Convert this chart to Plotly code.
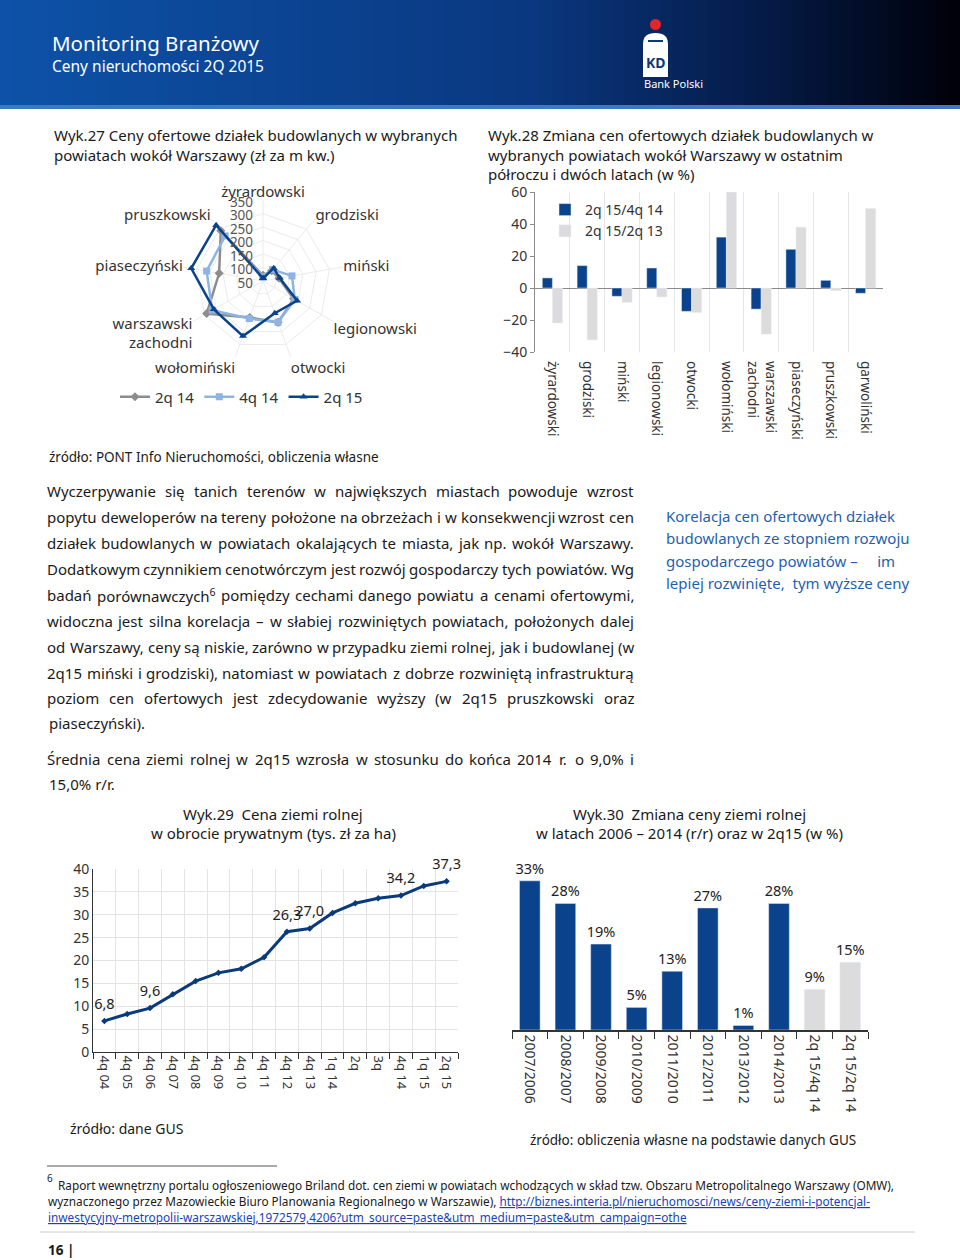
import re
import plotly.graph_objects as go

W, H = 960, 1260


def X(p):
    return p / W


def Y(p):
    return 1 - p / H


# ---------------- DATA ----------------
radar_cats = ["żyrardowski", "grodziski", "miński", "legionowski", "otwocki",
              "wołomiński", "warszawski zachodni", "piaseczyński", "pruszkowski"]
radar_2q14 = [70, 100, 110, 181, 213, 194, 291, 215, 293]
radar_4q14 = [65, 105, 159, 186, 213, 198, 267, 262, 268]
radar_2q15 = [60, 112, 113, 196, 177, 267, 260, 320, 320]

chg_cats = ["żyrardowski", "grodziski", "miński", "legionowski", "otwocki",
            "wołomiński", "warszawski zachodni", "piaseczyński", "pruszkowski", "garwoliński"]
chg_2q15_4q14 = [6.3, 14.0, -5.2, 12.5, -14.6, 31.8, -13.2, 24.2, 4.8, -3.3]
chg_2q15_2q13 = [-21.9, -32.4, -9.0, -5.6, -15.3, 60.0, -28.8, 38.0, -1.7, 49.7]

land_periods = ["4q 04", "4q 05", "4q 06", "4q 07", "4q 08", "4q 09", "4q 10", "4q 11",
                "4q 12", "4q 13", "1q 14", "2q", "3q", "4q 14", "1q 15", "2q 15"]
land_price = [6.8, 8.3, 9.6, 12.6, 15.5, 17.3, 18.2, 20.7,
              26.3, 27.0, 30.4, 32.5, 33.6, 34.2, 36.3, 37.3]
land_labelled = ["4q 04", "4q 06", "4q 12", "4q 13", "4q 14", "2q 15"]

rr_periods = ["2007/2006", "2008/2007", "2009/2008", "2010/2009", "2011/2010",
              "2012/2011", "2013/2012", "2014/2013", "2q 15/4q 14", "2q 15/2q 14"]
rr_change = [33, 28, 19, 5, 13, 27, 1, 28, 9, 15]

# ---------------- STYLE ----------------
NAVY = "#0b428c"
LBLUE = "#8db4e2"
GRAY = "#8c8c8c"
LGRAY = "#dcdcdc"
BODY = "Noto Sans"
CHART = "Noto Sans"
TXT = "#1a1a1a"

fig = go.Figure()


def brk(c):
    return c.replace(" ", "<br>") if c == "warszawski zachodni" else c


# ---- radar (Wyk.27) ----
theta = [brk(c) for c in radar_cats]
for name, vals, col, sym in [("2q 14", radar_2q14, GRAY, "diamond"),
                             ("4q 14", radar_4q14, LBLUE, "square"),
                             ("2q 15", radar_2q15, NAVY, "triangle-up")]:
    fig.add_trace(go.Scatterpolar(
        r=vals + vals[:1], theta=theta + theta[:1], name=name, mode="lines+markers",
        line=dict(color=col, width=2.5), marker=dict(symbol=sym, size=7, color=col),
        subplot="polar", legend="legend"))

# ---- bar change (Wyk.28) ----
xc = [brk(c) for c in chg_cats]
fig.add_trace(go.Bar(x=xc, y=chg_2q15_4q14, name="2q 15/4q 14", marker_color=NAVY,
                     xaxis="x", yaxis="y", legend="legend2"))
fig.add_trace(go.Bar(x=xc, y=chg_2q15_2q13, name="2q 15/2q 13", marker_color=LGRAY,
                     xaxis="x", yaxis="y", legend="legend2"))

# ---- line (Wyk.29) ----
fig.add_trace(go.Scatter(x=land_periods, y=land_price, mode="lines+markers",
                         line=dict(color="#0b3a7a", width=3),
                         marker=dict(symbol="diamond", size=5, color="#0b3a7a"),
                         showlegend=False, xaxis="x3", yaxis="y3"))
lab = [(p, v) for p, v in zip(land_periods, land_price) if p in land_labelled]
fig.add_trace(go.Scatter(x=[p for p, _ in lab], y=[v for _, v in lab], mode="markers+text",
                         text=[f"{v:.1f}".replace(".", ",") for _, v in lab],
                         textposition="top center", cliponaxis=False,
                         marker=dict(size=12, color="rgba(0,0,0,0)"),
                         textfont=dict(family=CHART, size=14.5, color="#222"),
                         showlegend=False, hoverinfo="skip", xaxis="x3", yaxis="y3"))

# ---- bar r/r (Wyk.30) ----
rr_colors = [LGRAY if "q" in p else NAVY for p in rr_periods]
fig.add_trace(go.Bar(x=rr_periods, y=rr_change, marker_color=rr_colors,
                     text=[f"{v}%" for v in rr_change], textposition="outside",
                     constraintext="none",
                     textfont=dict(family=CHART, size=14.5, color="#222"),
                     cliponaxis=False, showlegend=False, xaxis="x4", yaxis="y4"))

tickf = dict(family=CHART, size=14, color="#333")

fig.update_layout(
    width=W, height=H, margin=dict(l=0, r=0, t=0, b=0),
    paper_bgcolor="white", plot_bgcolor="white",
    barmode="group", bargap=0.42, bargroupgap=0,
    polar=dict(
        domain=dict(x=[X(182), X(344)], y=[Y(362), Y(200)]),
        bgcolor="white",
        gridshape="linear",
        angularaxis=dict(direction="clockwise", rotation=90, showline=False,
                         gridcolor="#ebebeb", ticks="",
                         tickfont=dict(family=BODY, size=15, color="#333")),
        radialaxis=dict(range=[50, 350], tickvals=[50, 100, 150, 200, 250, 300, 350],
                        angle=90, side="counterclockwise",
                        showline=False, ticks="", gridcolor="#ebebeb",
                        tickfont=dict(family=CHART, size=13.5, color="#555")),
    ),
    xaxis=dict(domain=[X(535), X(883)], anchor="y", tickson="boundaries",
               showgrid=True, gridcolor="#e6e6e6", showline=False, ticks="",
               tickangle=90, ticklabelstandoff=8,
               tickfont=dict(family=CHART, size=13.5, color="#333"),
               automargin=False),
    yaxis=dict(domain=[Y(352), Y(192)], anchor="x", range=[-40, 60], dtick=20,
               showgrid=False, zeroline=True, zerolinecolor="#8a8a8a", zerolinewidth=1,
               showline=True, linecolor="#8a8a8a", ticks="outside", ticklen=4,
               tickcolor="#8a8a8a", tickfont=tickf, automargin=False),
    xaxis3=dict(domain=[X(93), X(458)], anchor="y3", tickson="boundaries",
                range=[-0.5, len(land_periods) - 0.5],
                showgrid=True, gridcolor="#e3e3e3", showline=True, linecolor="#333",
                ticks="outside", ticklen=6, tickcolor="#333", tickangle=90,
                tickfont=dict(family=CHART, size=13, color="#333"), automargin=False),
    yaxis3=dict(domain=[Y(1052), Y(869)], anchor="x3", range=[0, 40], dtick=5,
                showgrid=True, gridcolor="#e3e3e3", showline=True, linecolor="#333",
                zeroline=False, ticks="", tickfont=tickf, automargin=False),
    xaxis4=dict(domain=[X(512), X(868)], anchor="y4", tickson="boundaries",
                showgrid=False, showline=True, linecolor="#333", linewidth=1.5,
                ticks="outside", ticklen=7, tickcolor="#333", tickangle=90,
                tickfont=dict(family=CHART, size=14, color="#333"), automargin=False),
    yaxis4=dict(domain=[Y(1030), Y(860)], anchor="x4", range=[0, 37.6],
                visible=False, automargin=False),
    legend=dict(orientation="h", x=X(115), y=Y(397), xanchor="left", yanchor="middle",
                bgcolor="rgba(0,0,0,0)", font=dict(family=CHART, size=15, color="#333"),
                itemwidth=30),
    legend2=dict(orientation="v", x=X(545), y=Y(194), xanchor="left", yanchor="top",
                 bgcolor="rgba(0,0,0,0)", font=dict(family=CHART, size=14, color="#333"),
                 tracegroupgap=0, itemwidth=30),
)

shapes = []
# header gradient
stops = [(0.0, (13, 82, 168)), (0.55, (10, 56, 128)), (0.8, (4, 26, 70)), (1.0, (0, 0, 8))]


def grad(t):
    for (t0, c0), (t1, c1) in zip(stops[:-1], stops[1:]):
        if t <= t1:
            f = (t - t0) / (t1 - t0)
            return "rgb(%d,%d,%d)" % tuple(round(a + (b - a) * f) for a, b in zip(c0, c1))
    return "rgb(0,0,8)"


N = 80
for i in range(N):
    shapes.append(dict(type="rect", xref="paper", yref="paper",
                       x0=X(i * W / N), x1=X((i + 1) * W / N + 1), y0=Y(106), y1=Y(0),
                       fillcolor=grad((i + 0.5) / N), line=dict(width=0), layer="below"))
shapes.append(dict(type="rect", xref="paper", yref="paper", x0=0, x1=1, y0=Y(109), y1=Y(105),
                   fillcolor="#3f78c0", line=dict(width=0), layer="below"))
# logo
shapes.append(dict(type="circle", xref="paper", yref="paper", x0=X(650), x1=X(661),
                   y0=Y(30), y1=Y(19), fillcolor="#e3262c", line=dict(width=0)))
shapes.append(dict(type="path", xref="paper", yref="paper",
                   path="M %f,%f L %f,%f Q %f,%f %f,%f Q %f,%f %f,%f L %f,%f Z" % (
                       X(643), Y(77), X(643), Y(44), X(643), Y(33), X(655.5), Y(33),
                       X(668), Y(33), X(668), Y(44), X(668), Y(77)),
                   fillcolor="white", line=dict(width=0)))
shapes.append(dict(type="line", xref="paper", yref="paper", x0=X(648), x1=X(663),
                   y0=Y(41), y1=Y(41), line=dict(color="#0b3a7a", width=2)))
# footnote rules
shapes.append(dict(type="line", xref="paper", yref="paper", x0=X(47), x1=X(277),
                   y0=Y(1166), y1=Y(1166), line=dict(color="#555", width=1)))
shapes.append(dict(type="line", xref="paper", yref="paper", x0=X(40), x1=X(915),
                   y0=Y(1232), y1=Y(1232), line=dict(color="#cccccc", width=1)))
fig.update_layout(shapes=shapes)

ann = []


def txt(x, y, s, size=15, color=TXT, anchor="left", family=BODY):
    ann.append(dict(x=X(x), y=Y(y), xref="paper", yref="paper", text=s, showarrow=False,
                    xanchor=anchor, yanchor="middle", align=anchor,
                    font=dict(family=family, size=size, color=color)))


# approximate advance widths (em units) for justified body text
CW = {" ": 0.26, "a": 0.556, "b": 0.613, "c": 0.476, "d": 0.613, "e": 0.561, "f": 0.339,
      "g": 0.548, "h": 0.614, "i": 0.253, "j": 0.253, "k": 0.525, "l": 0.253, "m": 0.93,
      "n": 0.614, "o": 0.604, "p": 0.613, "q": 0.613, "r": 0.408, "s": 0.477, "t": 0.353,
      "u": 0.614, "v": 0.501, "w": 0.778, "x": 0.524, "y": 0.502, "z": 0.461,
      "ą": 0.556, "ę": 0.561, "ó": 0.604, "ł": 0.26, "ż": 0.461, "ź": 0.461, "ń": 0.614,
      "ś": 0.477, "ć": 0.476, "A": 0.633, "D": 0.722, "W": 0.965, "Ś": 0.536,
      ",": 0.245, ".": 0.266, "(": 0.288, ")": 0.288, "–": 0.5, "%": 0.826, "/": 0.367,
      "0": 0.572, "1": 0.572, "2": 0.572, "4": 0.572, "5": 0.572, "6": 0.572, "9": 0.572}


def wwidth(word, size):
    sup = re.findall(r"<sup>(.*?)</sup>", word)
    plain = re.sub(r"<sup>.*?</sup>", "", word)
    w = sum(CW.get(ch, 0.56) for ch in plain) * size
    w += sum(CW.get(ch, 0.56) for s in sup for ch in s) * size * 0.7
    return w


def justify(y, line, size=15, x0=47, x1=634):
    words = line.split(" ")
    ws = [wwidth(w, size) for w in words]
    gap = (x1 - x0 - sum(ws)) / (len(words) - 1)
    pos = x0
    for w, wd in zip(words, ws):
        txt(pos + wd / 2, y, w, size, TXT, "center")
        pos += wd + gap


# header
txt(50, 43, "Monitoring Branżowy", 20.5, "white")
txt(50, 66, "Ceny nieruchomości 2Q 2015", 15.5, "white")
txt(673, 84, "Bank Polski", 11, "white", "center")
txt(656, 62, "<b>KD</b>", 14, "#0b3a7a", "center")

# chart titles
txt(52, 135, "Wyk.27 Ceny ofertowe działek budowlanych w wybranych", 15)
txt(52, 155, "powiatach wokół Warszawy (zł za m kw.)", 15)
txt(486, 135, "Wyk.28 Zmiana cen ofertowych działek budowlanych w", 15)
txt(486, 155, "wybranych powiatach wokół Warszawy w ostatnim", 15)
txt(486, 174, "półroczu i dwóch latach (w %)", 15)
txt(47, 457, "źródło: PONT Info Nieruchomości, obliczenia własne", 13.5)

para = [
    (491, "Wyczerpywanie się tanich terenów w największych miastach powoduje wzrost", True),
    (517, "popytu deweloperów na tereny położone na obrzeżach i w konsekwencji wzrost cen", True),
    (543, "działek budowlanych w powiatach okalających te miasta, jak np. wokół Warszawy.", True),
    (569, "Dodatkowym czynnikiem cenotwórczym jest rozwój gospodarczy tych powiatów. Wg", True),
    (595, "badań porównawczych<sup>6</sup> pomiędzy cechami danego powiatu a cenami ofertowymi,", True),
    (621, "widoczna jest silna korelacja – w słabiej rozwiniętych powiatach, położonych dalej", True),
    (647, "od Warszawy, ceny są niskie, zarówno w przypadku ziemi rolnej, jak i budowlanej (w", True),
    (673, "2q15 miński i grodziski), natomiast w powiatach z dobrze rozwiniętą infrastrukturą", True),
    (698, "poziom cen ofertowych jest zdecydowanie wyższy (w 2q15 pruszkowski oraz", True),
    (723, "piaseczyński).", False),
    (759, "Średnia cena ziemi rolnej w 2q15 wzrosła w stosunku do końca 2014 r. o 9,0% i", True),
    (784, "15,0% r/r.", False),
]
for y, s, j in para:
    if j:
        justify(y, s, 15)
    else:
        txt(47, y, s, 15)

side = [(516, "Korelacja cen ofertowych działek"),
        (538, "budowlanych ze stopniem rozwoju"),
        (561, "gospodarczego powiatów –     im"),
        (583, "lepiej rozwinięte,  tym wyższe ceny")]
for y, s in side:
    txt(664, y, s, 15, "#1f5fae")

txt(273, 814, "Wyk.29  Cena ziemi rolnej", 15, TXT, "center")
txt(273, 833, "w obrocie prywatnym (tys. zł za ha)", 15, TXT, "center")
txt(689, 814, "Wyk.30  Zmiana ceny ziemi rolnej", 15, TXT, "center")
txt(689, 833, "w latach 2006 – 2014 (r/r) oraz w 2q15 (w %)", 15, TXT, "center")
txt(68, 1128, "źródło: dane GUS", 14)
txt(528, 1140, "źródło: obliczenia własne na podstawie danych GUS", 13.5)

txt(45, 1178, "6", 10)
txt(56, 1185, "Raport wewnętrzny portalu ogłoszeniowego Briland dot. cen ziemi w powiatach "
              "wchodzących w skład tzw. Obszaru Metropolitalnego Warszawy (OMW),", 11.8)
LINK = "<span style='color:#1a3fbf;text-decoration:underline'>%s</span>"
txt(46, 1201, "wyznaczonego przez Mazowieckie Biuro Planowania Regionalnego w Warszawie), "
    + LINK % "http://biznes.interia.pl/nieruchomosci/news/ceny-ziemi-i-potencjal-", 11.8)
txt(46, 1217, LINK % "inwestycyjny-metropolii-warszawskiej,1972579,4206?utm_source=paste&amp;utm_medium=paste&amp;utm_campaign=othe", 11.8)
txt(46, 1250, "<b>16 |</b>", 13.5)

fig.update_layout(annotations=ann)

fig.write_html("out.html", config={"displayModeBar": False},
               post_script="document.body.style.margin='0';")
